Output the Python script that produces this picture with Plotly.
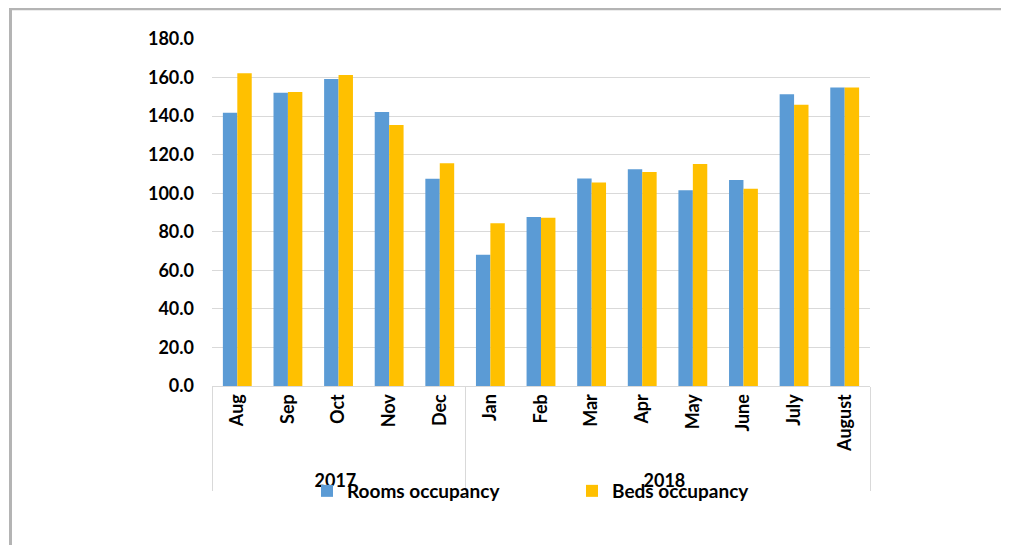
import plotly.graph_objects as go

years = ["2017"] * 5 + ["2018"] * 8
months = ["Aug", "Sep", "Oct", "Nov", "Dec", "Jan", "Feb", "Mar", "Apr", "May", "June", "July", "August"]
rooms = [141.8, 152.1, 159.2, 142.1, 107.5, 68.1, 87.7, 107.7, 112.4, 101.5, 106.8, 151.3, 154.9]
beds = [162.2, 152.5, 161.3, 135.4, 115.5, 84.4, 87.3, 105.6, 111.0, 115.1, 102.3, 145.9, 154.9]
y_ticks = [0, 20, 40, 60, 80, 100, 120, 140, 160, 180]

FONT = "Lato, 'Liberation Sans', Arial, sans-serif"

fig = go.Figure()
fig.add_trace(go.Bar(x=[years, months], y=rooms, name="Rooms occupancy",
                     marker=dict(color="#5B9BD5", line=dict(width=0))))
fig.add_trace(go.Bar(x=[years, months], y=beds, name="Beds occupancy",
                     marker=dict(color="#FFC000", line=dict(width=0))))

# page has an 8px body margin; work in page pixels and convert
OFF = 8
W, H = 1001, 537
L, T = 212 - OFF, 39 - OFF
pw, ph = 658, 347
R, B = W - L - pw, H - T - ph


def px_x(xp):
    return (xp - OFF - L) / pw


def px_y(yp):
    return 1 - (yp - OFF - T) / ph


fig.update_layout(
    width=W, height=H,
    margin=dict(l=L, r=R, t=T, b=B, autoexpand=False),
    paper_bgcolor="white", plot_bgcolor="white",
    barmode="group", bargap=0.43, bargroupgap=0,
    font=dict(family=FONT, color="#000000", size=17),
    showlegend=True,
    legend=dict(orientation="h", x=px_x(307), xanchor="left",
                y=px_y(491), yanchor="middle",
                font=dict(family=FONT, size=19, color="#000000", weight="bold"),
                entrywidth=220, bgcolor="rgba(0,0,0,0)", borderwidth=0),
    xaxis=dict(type="multicategory", tickangle=-90, ticks="", showgrid=False,
               showline=True, linecolor="#d9d9d9", linewidth=1,
               showdividers=True, dividercolor="#d9d9d9", dividerwidth=1,
               tickfont=dict(family=FONT, size=18, color="#000000", weight="bold")),
    yaxis=dict(range=[0, 180], tickvals=y_ticks, tickformat=".1f",
               showgrid=True, gridcolor="#d9d9d9", gridwidth=1,
               zeroline=False, showline=False, ticks="", ticklabelstandoff=17,
               tickfont=dict(family=FONT, size=18, color="#000000", weight="bold")),
    shapes=[
        dict(type="line", xref="paper", yref="paper",
             x0=px_x(9.5), x1=px_x(1012),
             y0=px_y(8.7), y1=px_y(8.7),
             line=dict(color="#b4b4b4", width=3)),
        dict(type="line", xref="paper", yref="paper",
             x0=px_x(10.5), x1=px_x(10.5),
             y0=px_y(7.3), y1=px_y(560),
             line=dict(color="#b4b4b4", width=3)),
    ],
)

fig.write_html("out.html")
